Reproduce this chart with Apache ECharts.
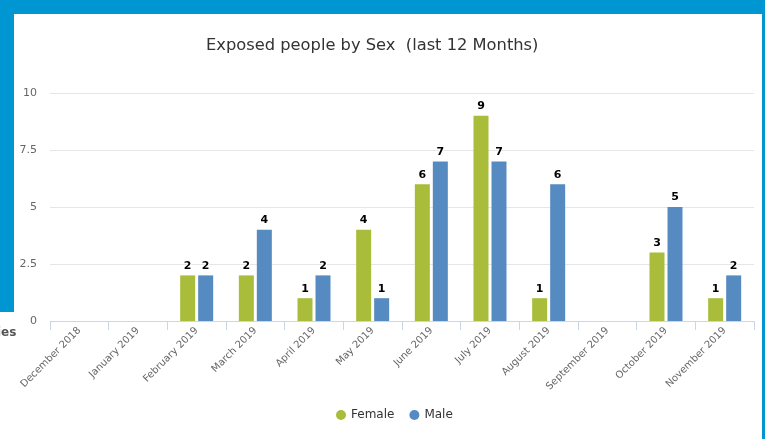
<!DOCTYPE html>
<html>
<head>
<meta charset="utf-8">
<script src="https://cdn.jsdelivr.net/npm/echarts@6/dist/echarts.min.js"></script>
<style>
  html, body { margin: 0; padding: 0; background: #fff; }
  #chart { width: 765px; height: 439px; }
</style>
</head>
<body>
<div id="chart"></div>
<script>
const months = ['December 2018', 'January 2019', 'February 2019', 'March 2019', 'April 2019', 'May 2019',
  'June 2019', 'July 2019', 'August 2019', 'September 2019', 'October 2019', 'November 2019'];
const female = [0, 0, 2, 2, 1, 4, 6, 9, 1, 0, 3, 1];
const male = [0, 0, 2, 4, 2, 1, 7, 7, 6, 0, 5, 2];
const yTicks = [0, 2.5, 5, 7.5, 10];

const chart = echarts.init(document.getElementById('chart'));

// data labels like highcharts: bold, white outline, hide zeros
const label = {
  show: true,
  position: 'top',
  distance: 4,
  fontSize: 11,
  fontWeight: 'bold',
  color: '#000',
  textBorderColor: '#fff',
  textBorderWidth: 2,
  fontFamily: 'DejaVu Sans',
  formatter: (p) => (p.value === 0 ? '' : p.value)
};

const option = {
  animation: false,
  textStyle: { fontFamily: 'DejaVu Sans' },
  title: {
    text: 'Exposed people by Sex  (last 12 Months)',
    left: 201,
    top: 33,
    textStyle: { fontSize: 16.3, fontWeight: 'normal', color: '#333', fontFamily: 'DejaVu Sans' }
  },
  legend: {
    data: ['Female', 'Male'],
    left: 331,
    top: 404,
    icon: 'circle',
    itemWidth: 10,
    itemHeight: 10,
    itemGap: 15,
    textStyle: { fontSize: 12, color: '#333' }
  },
  grid: { left: 50, right: 11, top: 93, bottom: 118 },
  xAxis: {
    type: 'category',
    data: months,
    axisLine: { lineStyle: { color: '#ccd6eb' } },
    axisTick: { show: true, length: 9, lineStyle: { color: '#ccd6eb' } },
    axisLabel: { rotate: 45, fontSize: 10, color: '#666', margin: 8, interval: 0 }
  },
  yAxis: {
    type: 'value',
    min: yTicks[0],
    max: yTicks[yTicks.length - 1],
    interval: 2.5,
    axisLine: { show: false },
    axisTick: { show: false },
    axisLabel: { fontSize: 11, color: '#666', margin: 13 },
    splitLine: { lineStyle: { color: '#e6e6e6' } }
  },
  series: [
    {
      name: 'Female',
      type: 'bar',
      data: female,
      barWidth: 15,
      barGap: '20%',
      itemStyle: { color: '#a9bd3a', borderWidth: 0 },
      label: label
    },
    {
      name: 'Male',
      type: 'bar',
      data: male,
      barWidth: 15,
      itemStyle: { color: '#558bc0', borderWidth: 0 },
      label: label
    }
  ],
  graphic: [
    { type: 'rect', shape: { x: 0, y: 0, width: 765, height: 14 }, style: { fill: '#0096d2' }, silent: true },
    { type: 'rect', shape: { x: 0, y: 0, width: 14, height: 312 }, style: { fill: '#0096d2' }, silent: true },
    { type: 'rect', shape: { x: 762, y: 0, width: 3, height: 439 }, style: { fill: '#0096d2' }, silent: true },
    { type: 'text', left: -3, top: 327, style: { text: 'ies', fontSize: 12, fontWeight: 'bold', fill: '#555', fontFamily: 'DejaVu Sans' }, silent: true }
  ]
};

chart.setOption(option);
window.addEventListener('resize', () => {
  chart.resize();
});
</script>
</body>
</html>
